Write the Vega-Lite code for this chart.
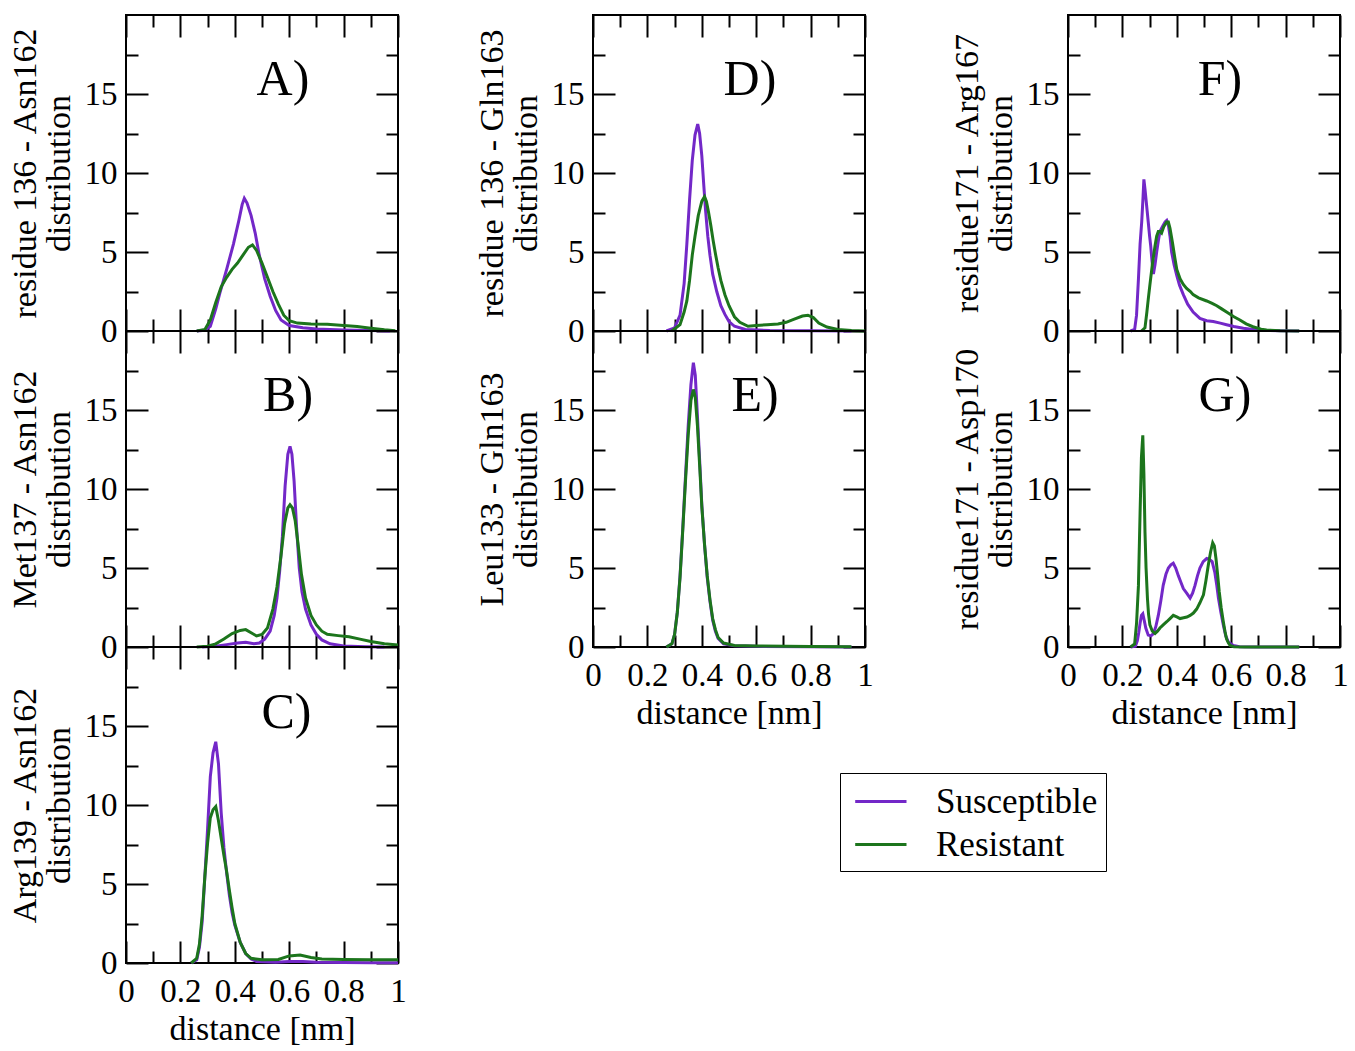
{
"$schema": "https://vega.github.io/schema/vega-lite/v6.json",
"background": "white",
"padding": {"left": 6, "top": 13, "right": 5, "bottom": 5},
"autosize": {"type": "pad"},
"datasets": {"d": [
{"p":"A","s":"Susceptible","x":0.26,"y":0},{"p":"A","s":"Susceptible","x":0.29,"y":0.05},{"p":"A","s":"Susceptible","x":0.31,"y":0.3},{"p":"A","s":"Susceptible","x":0.33,"y":1.4},{"p":"A","s":"Susceptible","x":0.345,"y":2.4},{"p":"A","s":"Susceptible","x":0.37,"y":3.9},{"p":"A","s":"Susceptible","x":0.395,"y":5.5},{"p":"A","s":"Susceptible","x":0.415,"y":7.0},{"p":"A","s":"Susceptible","x":0.427,"y":8.0},{"p":"A","s":"Susceptible","x":0.435,"y":8.4},{"p":"A","s":"Susceptible","x":0.445,"y":8.1},{"p":"A","s":"Susceptible","x":0.46,"y":7.3},{"p":"A","s":"Susceptible","x":0.475,"y":6.2},{"p":"A","s":"Susceptible","x":0.49,"y":4.8},{"p":"A","s":"Susceptible","x":0.51,"y":3.3},{"p":"A","s":"Susceptible","x":0.53,"y":2.2},{"p":"A","s":"Susceptible","x":0.55,"y":1.3},{"p":"A","s":"Susceptible","x":0.57,"y":0.7},{"p":"A","s":"Susceptible","x":0.6,"y":0.35},{"p":"A","s":"Susceptible","x":0.65,"y":0.2},{"p":"A","s":"Susceptible","x":0.7,"y":0.12},{"p":"A","s":"Susceptible","x":0.8,"y":0.06},{"p":"A","s":"Susceptible","x":0.9,"y":0.03},{"p":"A","s":"Susceptible","x":0.97,"y":0},
{"p":"A","s":"Resistant","x":0.26,"y":0},{"p":"A","s":"Resistant","x":0.29,"y":0.1},{"p":"A","s":"Resistant","x":0.31,"y":0.7},{"p":"A","s":"Resistant","x":0.33,"y":1.8},{"p":"A","s":"Resistant","x":0.35,"y":2.8},{"p":"A","s":"Resistant","x":0.37,"y":3.4},{"p":"A","s":"Resistant","x":0.39,"y":3.9},{"p":"A","s":"Resistant","x":0.41,"y":4.3},{"p":"A","s":"Resistant","x":0.43,"y":4.8},{"p":"A","s":"Resistant","x":0.45,"y":5.3},{"p":"A","s":"Resistant","x":0.465,"y":5.45},{"p":"A","s":"Resistant","x":0.48,"y":5.1},{"p":"A","s":"Resistant","x":0.5,"y":4.3},{"p":"A","s":"Resistant","x":0.52,"y":3.4},{"p":"A","s":"Resistant","x":0.54,"y":2.5},{"p":"A","s":"Resistant","x":0.56,"y":1.7},{"p":"A","s":"Resistant","x":0.58,"y":1.0},{"p":"A","s":"Resistant","x":0.6,"y":0.65},{"p":"A","s":"Resistant","x":0.63,"y":0.5},{"p":"A","s":"Resistant","x":0.68,"y":0.45},{"p":"A","s":"Resistant","x":0.74,"y":0.42},{"p":"A","s":"Resistant","x":0.8,"y":0.35},{"p":"A","s":"Resistant","x":0.85,"y":0.28},{"p":"A","s":"Resistant","x":0.9,"y":0.18},{"p":"A","s":"Resistant","x":0.95,"y":0.08},{"p":"A","s":"Resistant","x":0.99,"y":0.02},
{"p":"B","s":"Susceptible","x":0.28,"y":0},{"p":"B","s":"Susceptible","x":0.33,"y":0.05},{"p":"B","s":"Susceptible","x":0.37,"y":0.15},{"p":"B","s":"Susceptible","x":0.41,"y":0.25},{"p":"B","s":"Susceptible","x":0.44,"y":0.3},{"p":"B","s":"Susceptible","x":0.47,"y":0.2},{"p":"B","s":"Susceptible","x":0.49,"y":0.25},{"p":"B","s":"Susceptible","x":0.51,"y":0.5},{"p":"B","s":"Susceptible","x":0.53,"y":1.0},{"p":"B","s":"Susceptible","x":0.545,"y":2.0},{"p":"B","s":"Susceptible","x":0.555,"y":3.1},{"p":"B","s":"Susceptible","x":0.565,"y":4.8},{"p":"B","s":"Susceptible","x":0.575,"y":7.0},{"p":"B","s":"Susceptible","x":0.585,"y":10.2},{"p":"B","s":"Susceptible","x":0.595,"y":12.2},{"p":"B","s":"Susceptible","x":0.603,"y":12.7},{"p":"B","s":"Susceptible","x":0.61,"y":12.2},{"p":"B","s":"Susceptible","x":0.618,"y":10.5},{"p":"B","s":"Susceptible","x":0.627,"y":7.6},{"p":"B","s":"Susceptible","x":0.637,"y":5.0},{"p":"B","s":"Susceptible","x":0.647,"y":3.5},{"p":"B","s":"Susceptible","x":0.66,"y":2.4},{"p":"B","s":"Susceptible","x":0.68,"y":1.4},{"p":"B","s":"Susceptible","x":0.7,"y":0.8},{"p":"B","s":"Susceptible","x":0.72,"y":0.45},{"p":"B","s":"Susceptible","x":0.75,"y":0.2},{"p":"B","s":"Susceptible","x":0.8,"y":0.06},{"p":"B","s":"Susceptible","x":0.88,"y":0.02},{"p":"B","s":"Susceptible","x":0.95,"y":0},
{"p":"B","s":"Resistant","x":0.26,"y":0},{"p":"B","s":"Resistant","x":0.3,"y":0.05},{"p":"B","s":"Resistant","x":0.33,"y":0.2},{"p":"B","s":"Resistant","x":0.36,"y":0.5},{"p":"B","s":"Resistant","x":0.39,"y":0.85},{"p":"B","s":"Resistant","x":0.42,"y":1.05},{"p":"B","s":"Resistant","x":0.44,"y":1.1},{"p":"B","s":"Resistant","x":0.46,"y":0.9},{"p":"B","s":"Resistant","x":0.48,"y":0.7},{"p":"B","s":"Resistant","x":0.5,"y":0.8},{"p":"B","s":"Resistant","x":0.52,"y":1.2},{"p":"B","s":"Resistant","x":0.54,"y":2.4},{"p":"B","s":"Resistant","x":0.555,"y":3.8},{"p":"B","s":"Resistant","x":0.57,"y":5.8},{"p":"B","s":"Resistant","x":0.583,"y":7.8},{"p":"B","s":"Resistant","x":0.595,"y":8.8},{"p":"B","s":"Resistant","x":0.603,"y":9.0},{"p":"B","s":"Resistant","x":0.612,"y":8.8},{"p":"B","s":"Resistant","x":0.622,"y":8.0},{"p":"B","s":"Resistant","x":0.632,"y":6.6},{"p":"B","s":"Resistant","x":0.645,"y":4.6},{"p":"B","s":"Resistant","x":0.66,"y":3.1},{"p":"B","s":"Resistant","x":0.68,"y":2.0},{"p":"B","s":"Resistant","x":0.7,"y":1.4},{"p":"B","s":"Resistant","x":0.72,"y":1.0},{"p":"B","s":"Resistant","x":0.74,"y":0.8},{"p":"B","s":"Resistant","x":0.78,"y":0.72},{"p":"B","s":"Resistant","x":0.82,"y":0.65},{"p":"B","s":"Resistant","x":0.86,"y":0.5},{"p":"B","s":"Resistant","x":0.9,"y":0.35},{"p":"B","s":"Resistant","x":0.95,"y":0.2},{"p":"B","s":"Resistant","x":1.0,"y":0.12},
{"p":"C","s":"Susceptible","x":0.24,"y":0},{"p":"C","s":"Susceptible","x":0.26,"y":0.2},{"p":"C","s":"Susceptible","x":0.27,"y":1.0},{"p":"C","s":"Susceptible","x":0.28,"y":2.6},{"p":"C","s":"Susceptible","x":0.29,"y":5.5},{"p":"C","s":"Susceptible","x":0.3,"y":8.5},{"p":"C","s":"Susceptible","x":0.31,"y":11.8},{"p":"C","s":"Susceptible","x":0.32,"y":13.3},{"p":"C","s":"Susceptible","x":0.33,"y":14.0},{"p":"C","s":"Susceptible","x":0.34,"y":12.6},{"p":"C","s":"Susceptible","x":0.35,"y":9.5},{"p":"C","s":"Susceptible","x":0.36,"y":7.3},{"p":"C","s":"Susceptible","x":0.37,"y":5.7},{"p":"C","s":"Susceptible","x":0.38,"y":4.3},{"p":"C","s":"Susceptible","x":0.39,"y":3.2},{"p":"C","s":"Susceptible","x":0.4,"y":2.4},{"p":"C","s":"Susceptible","x":0.42,"y":1.3},{"p":"C","s":"Susceptible","x":0.44,"y":0.6},{"p":"C","s":"Susceptible","x":0.46,"y":0.25},{"p":"C","s":"Susceptible","x":0.48,"y":0.1},{"p":"C","s":"Susceptible","x":0.55,"y":0.05},{"p":"C","s":"Susceptible","x":0.6,"y":0.1},{"p":"C","s":"Susceptible","x":0.65,"y":0.1},{"p":"C","s":"Susceptible","x":0.7,"y":0.05},{"p":"C","s":"Susceptible","x":0.8,"y":0.03},{"p":"C","s":"Susceptible","x":0.9,"y":0.02},{"p":"C","s":"Susceptible","x":1.0,"y":0.02},
{"p":"C","s":"Resistant","x":0.24,"y":0},{"p":"C","s":"Resistant","x":0.26,"y":0.3},{"p":"C","s":"Resistant","x":0.27,"y":1.2},{"p":"C","s":"Resistant","x":0.28,"y":3.0},{"p":"C","s":"Resistant","x":0.29,"y":5.5},{"p":"C","s":"Resistant","x":0.3,"y":7.6},{"p":"C","s":"Resistant","x":0.31,"y":9.2},{"p":"C","s":"Resistant","x":0.32,"y":9.7},{"p":"C","s":"Resistant","x":0.33,"y":9.9},{"p":"C","s":"Resistant","x":0.34,"y":9.0},{"p":"C","s":"Resistant","x":0.35,"y":7.9},{"p":"C","s":"Resistant","x":0.36,"y":6.8},{"p":"C","s":"Resistant","x":0.37,"y":5.8},{"p":"C","s":"Resistant","x":0.38,"y":4.6},{"p":"C","s":"Resistant","x":0.39,"y":3.5},{"p":"C","s":"Resistant","x":0.4,"y":2.5},{"p":"C","s":"Resistant","x":0.42,"y":1.3},{"p":"C","s":"Resistant","x":0.44,"y":0.6},{"p":"C","s":"Resistant","x":0.46,"y":0.3},{"p":"C","s":"Resistant","x":0.5,"y":0.2},{"p":"C","s":"Resistant","x":0.56,"y":0.22},{"p":"C","s":"Resistant","x":0.6,"y":0.45},{"p":"C","s":"Resistant","x":0.64,"y":0.5},{"p":"C","s":"Resistant","x":0.68,"y":0.35},{"p":"C","s":"Resistant","x":0.72,"y":0.25},{"p":"C","s":"Resistant","x":0.8,"y":0.22},{"p":"C","s":"Resistant","x":0.9,"y":0.2},{"p":"C","s":"Resistant","x":1.0,"y":0.2},
{"p":"D","s":"Susceptible","x":0.27,"y":0},{"p":"D","s":"Susceptible","x":0.3,"y":0.2},{"p":"D","s":"Susceptible","x":0.32,"y":1.0},{"p":"D","s":"Susceptible","x":0.335,"y":3.0},{"p":"D","s":"Susceptible","x":0.345,"y":5.5},{"p":"D","s":"Susceptible","x":0.355,"y":8.3},{"p":"D","s":"Susceptible","x":0.365,"y":10.8},{"p":"D","s":"Susceptible","x":0.375,"y":12.4},{"p":"D","s":"Susceptible","x":0.385,"y":13.1},{"p":"D","s":"Susceptible","x":0.392,"y":12.5},{"p":"D","s":"Susceptible","x":0.4,"y":11.1},{"p":"D","s":"Susceptible","x":0.407,"y":9.3},{"p":"D","s":"Susceptible","x":0.414,"y":7.6},{"p":"D","s":"Susceptible","x":0.422,"y":6.0},{"p":"D","s":"Susceptible","x":0.43,"y":4.8},{"p":"D","s":"Susceptible","x":0.44,"y":3.6},{"p":"D","s":"Susceptible","x":0.455,"y":2.5},{"p":"D","s":"Susceptible","x":0.47,"y":1.6},{"p":"D","s":"Susceptible","x":0.485,"y":1.05},{"p":"D","s":"Susceptible","x":0.5,"y":0.6},{"p":"D","s":"Susceptible","x":0.52,"y":0.3},{"p":"D","s":"Susceptible","x":0.56,"y":0.1},{"p":"D","s":"Susceptible","x":0.65,"y":0.03},{"p":"D","s":"Susceptible","x":0.8,"y":0.01},{"p":"D","s":"Susceptible","x":0.95,"y":0},
{"p":"D","s":"Resistant","x":0.29,"y":0},{"p":"D","s":"Resistant","x":0.32,"y":0.4},{"p":"D","s":"Resistant","x":0.335,"y":1.2},{"p":"D","s":"Resistant","x":0.345,"y":1.9},{"p":"D","s":"Resistant","x":0.355,"y":3.2},{"p":"D","s":"Resistant","x":0.365,"y":4.8},{"p":"D","s":"Resistant","x":0.375,"y":6.0},{"p":"D","s":"Resistant","x":0.387,"y":7.3},{"p":"D","s":"Resistant","x":0.4,"y":8.2},{"p":"D","s":"Resistant","x":0.41,"y":8.5},{"p":"D","s":"Resistant","x":0.417,"y":8.2},{"p":"D","s":"Resistant","x":0.424,"y":7.6},{"p":"D","s":"Resistant","x":0.433,"y":6.7},{"p":"D","s":"Resistant","x":0.442,"y":5.7},{"p":"D","s":"Resistant","x":0.45,"y":4.9},{"p":"D","s":"Resistant","x":0.46,"y":4.0},{"p":"D","s":"Resistant","x":0.47,"y":3.2},{"p":"D","s":"Resistant","x":0.485,"y":2.3},{"p":"D","s":"Resistant","x":0.5,"y":1.6},{"p":"D","s":"Resistant","x":0.52,"y":0.9},{"p":"D","s":"Resistant","x":0.54,"y":0.55},{"p":"D","s":"Resistant","x":0.57,"y":0.3},{"p":"D","s":"Resistant","x":0.6,"y":0.35},{"p":"D","s":"Resistant","x":0.64,"y":0.4},{"p":"D","s":"Resistant","x":0.68,"y":0.45},{"p":"D","s":"Resistant","x":0.71,"y":0.55},{"p":"D","s":"Resistant","x":0.74,"y":0.75},{"p":"D","s":"Resistant","x":0.77,"y":0.95},{"p":"D","s":"Resistant","x":0.79,"y":1.0},{"p":"D","s":"Resistant","x":0.81,"y":0.85},{"p":"D","s":"Resistant","x":0.83,"y":0.5},{"p":"D","s":"Resistant","x":0.86,"y":0.25},{"p":"D","s":"Resistant","x":0.9,"y":0.1},{"p":"D","s":"Resistant","x":0.95,"y":0.03},{"p":"D","s":"Resistant","x":1.0,"y":0},
{"p":"E","s":"Susceptible","x":0.27,"y":0},{"p":"E","s":"Susceptible","x":0.29,"y":0.2},{"p":"E","s":"Susceptible","x":0.3,"y":0.8},{"p":"E","s":"Susceptible","x":0.31,"y":2.2},{"p":"E","s":"Susceptible","x":0.32,"y":4.5},{"p":"E","s":"Susceptible","x":0.33,"y":7.5},{"p":"E","s":"Susceptible","x":0.34,"y":10.8},{"p":"E","s":"Susceptible","x":0.35,"y":14.0},{"p":"E","s":"Susceptible","x":0.36,"y":16.6},{"p":"E","s":"Susceptible","x":0.369,"y":18.0},{"p":"E","s":"Susceptible","x":0.376,"y":17.2},{"p":"E","s":"Susceptible","x":0.384,"y":14.6},{"p":"E","s":"Susceptible","x":0.393,"y":11.5},{"p":"E","s":"Susceptible","x":0.4,"y":9.0},{"p":"E","s":"Susceptible","x":0.41,"y":6.5},{"p":"E","s":"Susceptible","x":0.42,"y":4.4},{"p":"E","s":"Susceptible","x":0.43,"y":2.9},{"p":"E","s":"Susceptible","x":0.44,"y":1.7},{"p":"E","s":"Susceptible","x":0.45,"y":1.0},{"p":"E","s":"Susceptible","x":0.46,"y":0.55},{"p":"E","s":"Susceptible","x":0.48,"y":0.2},{"p":"E","s":"Susceptible","x":0.52,"y":0.08},{"p":"E","s":"Susceptible","x":0.6,"y":0.04},{"p":"E","s":"Susceptible","x":0.8,"y":0.02},{"p":"E","s":"Susceptible","x":0.95,"y":0},
{"p":"E","s":"Resistant","x":0.27,"y":0},{"p":"E","s":"Resistant","x":0.29,"y":0.2},{"p":"E","s":"Resistant","x":0.3,"y":0.8},{"p":"E","s":"Resistant","x":0.31,"y":2.2},{"p":"E","s":"Resistant","x":0.32,"y":4.4},{"p":"E","s":"Resistant","x":0.33,"y":7.4},{"p":"E","s":"Resistant","x":0.34,"y":10.5},{"p":"E","s":"Resistant","x":0.35,"y":13.4},{"p":"E","s":"Resistant","x":0.36,"y":15.6},{"p":"E","s":"Resistant","x":0.369,"y":16.3},{"p":"E","s":"Resistant","x":0.376,"y":15.8},{"p":"E","s":"Resistant","x":0.384,"y":14.0},{"p":"E","s":"Resistant","x":0.393,"y":11.2},{"p":"E","s":"Resistant","x":0.4,"y":8.9},{"p":"E","s":"Resistant","x":0.41,"y":6.5},{"p":"E","s":"Resistant","x":0.42,"y":4.5},{"p":"E","s":"Resistant","x":0.43,"y":3.0},{"p":"E","s":"Resistant","x":0.44,"y":1.8},{"p":"E","s":"Resistant","x":0.45,"y":1.1},{"p":"E","s":"Resistant","x":0.46,"y":0.6},{"p":"E","s":"Resistant","x":0.48,"y":0.25},{"p":"E","s":"Resistant","x":0.52,"y":0.1},{"p":"E","s":"Resistant","x":0.6,"y":0.06},{"p":"E","s":"Resistant","x":0.8,"y":0.03},{"p":"E","s":"Resistant","x":0.95,"y":0.01},
{"p":"F","s":"Susceptible","x":0.23,"y":0},{"p":"F","s":"Susceptible","x":0.245,"y":0.1},{"p":"F","s":"Susceptible","x":0.252,"y":1.0},{"p":"F","s":"Susceptible","x":0.259,"y":3.3},{"p":"F","s":"Susceptible","x":0.265,"y":5.5},{"p":"F","s":"Susceptible","x":0.271,"y":6.9},{"p":"F","s":"Susceptible","x":0.276,"y":8.5},{"p":"F","s":"Susceptible","x":0.279,"y":9.6},{"p":"F","s":"Susceptible","x":0.283,"y":9.0},{"p":"F","s":"Susceptible","x":0.287,"y":8.3},{"p":"F","s":"Susceptible","x":0.291,"y":7.6},{"p":"F","s":"Susceptible","x":0.295,"y":6.9},{"p":"F","s":"Susceptible","x":0.3,"y":6.0},{"p":"F","s":"Susceptible","x":0.304,"y":5.4},{"p":"F","s":"Susceptible","x":0.309,"y":4.4},{"p":"F","s":"Susceptible","x":0.314,"y":3.6},{"p":"F","s":"Susceptible","x":0.32,"y":4.2},{"p":"F","s":"Susceptible","x":0.326,"y":5.0},{"p":"F","s":"Susceptible","x":0.332,"y":5.7},{"p":"F","s":"Susceptible","x":0.338,"y":6.3},{"p":"F","s":"Susceptible","x":0.347,"y":6.6},{"p":"F","s":"Susceptible","x":0.357,"y":6.9},{"p":"F","s":"Susceptible","x":0.363,"y":7.0},{"p":"F","s":"Susceptible","x":0.369,"y":6.7},{"p":"F","s":"Susceptible","x":0.375,"y":6.0},{"p":"F","s":"Susceptible","x":0.381,"y":5.0},{"p":"F","s":"Susceptible","x":0.39,"y":4.2},{"p":"F","s":"Susceptible","x":0.4,"y":3.5},{"p":"F","s":"Susceptible","x":0.41,"y":2.9},{"p":"F","s":"Susceptible","x":0.424,"y":2.3},{"p":"F","s":"Susceptible","x":0.44,"y":1.7},{"p":"F","s":"Susceptible","x":0.46,"y":1.2},{"p":"F","s":"Susceptible","x":0.485,"y":0.8},{"p":"F","s":"Susceptible","x":0.51,"y":0.65},{"p":"F","s":"Susceptible","x":0.534,"y":0.6},{"p":"F","s":"Susceptible","x":0.56,"y":0.5},{"p":"F","s":"Susceptible","x":0.583,"y":0.4},{"p":"F","s":"Susceptible","x":0.61,"y":0.28},{"p":"F","s":"Susceptible","x":0.645,"y":0.17},{"p":"F","s":"Susceptible","x":0.68,"y":0.1},{"p":"F","s":"Susceptible","x":0.71,"y":0.05},{"p":"F","s":"Susceptible","x":0.78,"y":0.02},{"p":"F","s":"Susceptible","x":0.85,"y":0},
{"p":"F","s":"Resistant","x":0.27,"y":0},{"p":"F","s":"Resistant","x":0.283,"y":0.2},{"p":"F","s":"Resistant","x":0.29,"y":1.2},{"p":"F","s":"Resistant","x":0.295,"y":2.0},{"p":"F","s":"Resistant","x":0.301,"y":2.9},{"p":"F","s":"Resistant","x":0.31,"y":4.2},{"p":"F","s":"Resistant","x":0.32,"y":5.4},{"p":"F","s":"Resistant","x":0.326,"y":6.0},{"p":"F","s":"Resistant","x":0.332,"y":6.3},{"p":"F","s":"Resistant","x":0.338,"y":6.3},{"p":"F","s":"Resistant","x":0.344,"y":6.2},{"p":"F","s":"Resistant","x":0.352,"y":6.6},{"p":"F","s":"Resistant","x":0.363,"y":6.9},{"p":"F","s":"Resistant","x":0.369,"y":6.9},{"p":"F","s":"Resistant","x":0.375,"y":6.5},{"p":"F","s":"Resistant","x":0.384,"y":5.6},{"p":"F","s":"Resistant","x":0.393,"y":4.6},{"p":"F","s":"Resistant","x":0.4,"y":3.9},{"p":"F","s":"Resistant","x":0.412,"y":3.3},{"p":"F","s":"Resistant","x":0.424,"y":2.95},{"p":"F","s":"Resistant","x":0.436,"y":2.7},{"p":"F","s":"Resistant","x":0.45,"y":2.5},{"p":"F","s":"Resistant","x":0.46,"y":2.3},{"p":"F","s":"Resistant","x":0.48,"y":2.1},{"p":"F","s":"Resistant","x":0.51,"y":1.9},{"p":"F","s":"Resistant","x":0.53,"y":1.75},{"p":"F","s":"Resistant","x":0.547,"y":1.6},{"p":"F","s":"Resistant","x":0.565,"y":1.4},{"p":"F","s":"Resistant","x":0.583,"y":1.2},{"p":"F","s":"Resistant","x":0.61,"y":0.9},{"p":"F","s":"Resistant","x":0.632,"y":0.7},{"p":"F","s":"Resistant","x":0.655,"y":0.45},{"p":"F","s":"Resistant","x":0.68,"y":0.27},{"p":"F","s":"Resistant","x":0.71,"y":0.12},{"p":"F","s":"Resistant","x":0.73,"y":0.06},{"p":"F","s":"Resistant","x":0.78,"y":0.02},{"p":"F","s":"Resistant","x":0.85,"y":0},
{"p":"G","s":"Susceptible","x":0.23,"y":0},{"p":"G","s":"Susceptible","x":0.248,"y":0.05},{"p":"G","s":"Susceptible","x":0.255,"y":0.4},{"p":"G","s":"Susceptible","x":0.26,"y":0.9},{"p":"G","s":"Susceptible","x":0.265,"y":1.5},{"p":"G","s":"Susceptible","x":0.27,"y":2.0},{"p":"G","s":"Susceptible","x":0.275,"y":2.1},{"p":"G","s":"Susceptible","x":0.28,"y":1.7},{"p":"G","s":"Susceptible","x":0.286,"y":1.2},{"p":"G","s":"Susceptible","x":0.295,"y":0.75},{"p":"G","s":"Susceptible","x":0.305,"y":0.7},{"p":"G","s":"Susceptible","x":0.314,"y":0.85},{"p":"G","s":"Susceptible","x":0.323,"y":1.3},{"p":"G","s":"Susceptible","x":0.332,"y":2.0},{"p":"G","s":"Susceptible","x":0.341,"y":2.9},{"p":"G","s":"Susceptible","x":0.35,"y":3.9},{"p":"G","s":"Susceptible","x":0.36,"y":4.6},{"p":"G","s":"Susceptible","x":0.369,"y":5.0},{"p":"G","s":"Susceptible","x":0.378,"y":5.2},{"p":"G","s":"Susceptible","x":0.387,"y":5.3},{"p":"G","s":"Susceptible","x":0.396,"y":5.0},{"p":"G","s":"Susceptible","x":0.406,"y":4.5},{"p":"G","s":"Susceptible","x":0.415,"y":4.1},{"p":"G","s":"Susceptible","x":0.424,"y":3.7},{"p":"G","s":"Susceptible","x":0.437,"y":3.4},{"p":"G","s":"Susceptible","x":0.449,"y":3.1},{"p":"G","s":"Susceptible","x":0.458,"y":3.4},{"p":"G","s":"Susceptible","x":0.467,"y":3.9},{"p":"G","s":"Susceptible","x":0.476,"y":4.5},{"p":"G","s":"Susceptible","x":0.485,"y":5.0},{"p":"G","s":"Susceptible","x":0.497,"y":5.4},{"p":"G","s":"Susceptible","x":0.51,"y":5.6},{"p":"G","s":"Susceptible","x":0.52,"y":5.55},{"p":"G","s":"Susceptible","x":0.53,"y":5.4},{"p":"G","s":"Susceptible","x":0.54,"y":4.7},{"p":"G","s":"Susceptible","x":0.547,"y":3.9},{"p":"G","s":"Susceptible","x":0.553,"y":3.1},{"p":"G","s":"Susceptible","x":0.562,"y":2.2},{"p":"G","s":"Susceptible","x":0.571,"y":1.4},{"p":"G","s":"Susceptible","x":0.58,"y":0.7},{"p":"G","s":"Susceptible","x":0.59,"y":0.3},{"p":"G","s":"Susceptible","x":0.608,"y":0.1},{"p":"G","s":"Susceptible","x":0.63,"y":0.02},{"p":"G","s":"Susceptible","x":0.7,"y":0},{"p":"G","s":"Susceptible","x":0.85,"y":0},
{"p":"G","s":"Resistant","x":0.23,"y":0},{"p":"G","s":"Resistant","x":0.245,"y":0.2},{"p":"G","s":"Resistant","x":0.252,"y":1.5},{"p":"G","s":"Resistant","x":0.259,"y":3.9},{"p":"G","s":"Resistant","x":0.265,"y":8.5},{"p":"G","s":"Resistant","x":0.27,"y":12.0},{"p":"G","s":"Resistant","x":0.275,"y":13.4},{"p":"G","s":"Resistant","x":0.279,"y":11.0},{"p":"G","s":"Resistant","x":0.283,"y":7.3},{"p":"G","s":"Resistant","x":0.287,"y":5.0},{"p":"G","s":"Resistant","x":0.292,"y":3.1},{"p":"G","s":"Resistant","x":0.296,"y":2.1},{"p":"G","s":"Resistant","x":0.301,"y":1.4},{"p":"G","s":"Resistant","x":0.31,"y":1.0},{"p":"G","s":"Resistant","x":0.32,"y":0.85},{"p":"G","s":"Resistant","x":0.329,"y":1.0},{"p":"G","s":"Resistant","x":0.338,"y":1.2},{"p":"G","s":"Resistant","x":0.35,"y":1.4},{"p":"G","s":"Resistant","x":0.363,"y":1.6},{"p":"G","s":"Resistant","x":0.375,"y":1.8},{"p":"G","s":"Resistant","x":0.387,"y":2.0},{"p":"G","s":"Resistant","x":0.4,"y":1.9},{"p":"G","s":"Resistant","x":0.412,"y":1.8},{"p":"G","s":"Resistant","x":0.425,"y":1.85},{"p":"G","s":"Resistant","x":0.437,"y":1.9},{"p":"G","s":"Resistant","x":0.449,"y":2.0},{"p":"G","s":"Resistant","x":0.461,"y":2.15},{"p":"G","s":"Resistant","x":0.473,"y":2.4},{"p":"G","s":"Resistant","x":0.485,"y":2.8},{"p":"G","s":"Resistant","x":0.498,"y":3.3},{"p":"G","s":"Resistant","x":0.507,"y":4.2},{"p":"G","s":"Resistant","x":0.516,"y":5.2},{"p":"G","s":"Resistant","x":0.524,"y":6.0},{"p":"G","s":"Resistant","x":0.532,"y":6.6},{"p":"G","s":"Resistant","x":0.538,"y":6.4},{"p":"G","s":"Resistant","x":0.544,"y":5.6},{"p":"G","s":"Resistant","x":0.55,"y":4.6},{"p":"G","s":"Resistant","x":0.556,"y":3.5},{"p":"G","s":"Resistant","x":0.563,"y":2.5},{"p":"G","s":"Resistant","x":0.571,"y":1.6},{"p":"G","s":"Resistant","x":0.577,"y":1.0},{"p":"G","s":"Resistant","x":0.583,"y":0.5},{"p":"G","s":"Resistant","x":0.59,"y":0.25},{"p":"G","s":"Resistant","x":0.596,"y":0.1},{"p":"G","s":"Resistant","x":0.61,"y":0.02},{"p":"G","s":"Resistant","x":0.65,"y":0},{"p":"G","s":"Resistant","x":0.85,"y":0}
]},
"spacing": 65,
"hconcat": [
{"spacing": 0, "bounds": "flush", "vconcat": [
 {"width":272,"height":316,"data":{"name":"d"},"transform":[{"filter":"datum.p==='A'"}],
  "layer":[
   {"transform":[{"filter":"datum.s==='Susceptible'"}],"mark":{"type":"line","strokeWidth":3},
    "encoding":{"x":{"field":"x","type":"quantitative","scale":{"domain":[0,1],"nice":false},"axis":{"orient":"bottom","values":[0,0.1,0.2,0.3,0.4,0.5,0.6,0.7,0.8,0.9,1],"tickSize":{"condition":{"test":"round(datum.value*10)%2===0","value":-22},"value":-12},"labels":false,"title":null}},
     "y":{"field":"y","type":"quantitative","scale":{"domain":[0,20],"nice":false},"axis":{"orient":"left","values":[0,2.5,5,7.5,10,12.5,15,17.5],"tickSize":{"condition":{"test":"datum.value%5===0","value":-22},"value":-12},"labelExpr":"datum.value%5===0 ? format(datum.value,'d') : ''","labelPadding":31,"title":["residue 136 - Asn162","distribution"],"titlePadding":8,"titleLineHeight":34}},
     "color":{"field":"s","type":"nominal","scale":{"domain":["Susceptible","Resistant"],"range":["#7328c8","#1c751c"]},"legend":{"title":null,"orient":"none","legendX":714,"legendY":758,"direction":"vertical","symbolType":"M-0.7,0H2.0","symbolStrokeWidth":3,"symbolSize":1444,"labelFont":"Liberation Serif","labelFontSize":35,"labelColor":"black","labelLimit":300,"strokeColor":"black","padding":8,"fillColor":"white","rowPadding":4,"labelOffset":47}}}},
   {"transform":[{"filter":"datum.s==='Resistant'"}],"mark":{"type":"line","strokeWidth":3},
    "encoding":{"x":{"field":"x","type":"quantitative","scale":{"domain":[0,1],"nice":false},"axis":{"orient":"top","values":[0,0.1,0.2,0.3,0.4,0.5,0.6,0.7,0.8,0.9,1],"tickSize":{"condition":{"test":"round(datum.value*10)%2===0","value":-22},"value":-12},"labels":false,"title":null}},
     "y":{"field":"y","type":"quantitative","scale":{"domain":[0,20],"nice":false},"axis":{"orient":"right","values":[0,2.5,5,7.5,10,12.5,15,17.5],"tickSize":{"condition":{"test":"datum.value%5===0","value":-22},"value":-12},"labels":false,"title":null}},
     "color":{"field":"s","type":"nominal","scale":{"domain":["Susceptible","Resistant"],"range":["#7328c8","#1c751c"]},"legend":{"title":null,"orient":"none","legendX":714,"legendY":758,"direction":"vertical","symbolType":"M-0.7,0H2.0","symbolStrokeWidth":3,"symbolSize":1444,"labelFont":"Liberation Serif","labelFontSize":35,"labelColor":"black","labelLimit":300,"strokeColor":"black","padding":8,"fillColor":"white","rowPadding":4,"labelOffset":47}}}},
   {"data":{"values":[{"label":"A)"}]},"mark":{"type":"text","font":"Liberation Serif","fontSize":50,"color":"black"},
    "encoding":{"x":{"datum":0.577,"type":"quantitative","axis":null},"y":{"datum":15.9,"type":"quantitative","axis":null},"text":{"field":"label"}}}
  ],
  "resolve":{"axis":{"x":"independent","y":"independent"}}},
 {"width":272,"height":316,"data":{"name":"d"},"transform":[{"filter":"datum.p==='B'"}],
  "layer":[
   {"transform":[{"filter":"datum.s==='Susceptible'"}],"mark":{"type":"line","strokeWidth":3},
    "encoding":{"x":{"field":"x","type":"quantitative","scale":{"domain":[0,1],"nice":false},"axis":{"orient":"bottom","values":[0,0.1,0.2,0.3,0.4,0.5,0.6,0.7,0.8,0.9,1],"tickSize":{"condition":{"test":"round(datum.value*10)%2===0","value":-22},"value":-12},"labels":false,"title":null}},
     "y":{"field":"y","type":"quantitative","scale":{"domain":[0,20],"nice":false},"axis":{"orient":"left","values":[0,2.5,5,7.5,10,12.5,15,17.5],"tickSize":{"condition":{"test":"datum.value%5===0","value":-22},"value":-12},"labelExpr":"datum.value%5===0 ? format(datum.value,'d') : ''","labelPadding":31,"title":["Met137 - Asn162","distribution"],"titlePadding":8,"titleLineHeight":34}},
     "color":{"field":"s","type":"nominal","scale":{"domain":["Susceptible","Resistant"],"range":["#7328c8","#1c751c"]},"legend":{"title":null,"orient":"none","legendX":714,"legendY":758,"direction":"vertical","symbolType":"M-0.7,0H2.0","symbolStrokeWidth":3,"symbolSize":1444,"labelFont":"Liberation Serif","labelFontSize":35,"labelColor":"black","labelLimit":300,"strokeColor":"black","padding":8,"fillColor":"white","rowPadding":4,"labelOffset":47}}}},
   {"transform":[{"filter":"datum.s==='Resistant'"}],"mark":{"type":"line","strokeWidth":3},
    "encoding":{"x":{"field":"x","type":"quantitative","scale":{"domain":[0,1],"nice":false},"axis":{"orient":"top","values":[0,0.1,0.2,0.3,0.4,0.5,0.6,0.7,0.8,0.9,1],"tickSize":{"condition":{"test":"round(datum.value*10)%2===0","value":-22},"value":-12},"labels":false,"title":null}},
     "y":{"field":"y","type":"quantitative","scale":{"domain":[0,20],"nice":false},"axis":{"orient":"right","values":[0,2.5,5,7.5,10,12.5,15,17.5],"tickSize":{"condition":{"test":"datum.value%5===0","value":-22},"value":-12},"labels":false,"title":null}},
     "color":{"field":"s","type":"nominal","scale":{"domain":["Susceptible","Resistant"],"range":["#7328c8","#1c751c"]},"legend":{"title":null,"orient":"none","legendX":714,"legendY":758,"direction":"vertical","symbolType":"M-0.7,0H2.0","symbolStrokeWidth":3,"symbolSize":1444,"labelFont":"Liberation Serif","labelFontSize":35,"labelColor":"black","labelLimit":300,"strokeColor":"black","padding":8,"fillColor":"white","rowPadding":4,"labelOffset":47}}}},
   {"data":{"values":[{"label":"B)"}]},"mark":{"type":"text","font":"Liberation Serif","fontSize":50,"color":"black"},
    "encoding":{"x":{"datum":0.596,"type":"quantitative","axis":null},"y":{"datum":15.9,"type":"quantitative","axis":null},"text":{"field":"label"}}}
  ],
  "resolve":{"axis":{"x":"independent","y":"independent"}}},
 {"width":272,"height":316,"data":{"name":"d"},"transform":[{"filter":"datum.p==='C'"}],
  "layer":[
   {"transform":[{"filter":"datum.s==='Susceptible'"}],"mark":{"type":"line","strokeWidth":3},
    "encoding":{"x":{"field":"x","type":"quantitative","scale":{"domain":[0,1],"nice":false},"axis":{"orient":"bottom","values":[0,0.1,0.2,0.3,0.4,0.5,0.6,0.7,0.8,0.9,1],"tickSize":{"condition":{"test":"round(datum.value*10)%2===0","value":-22},"value":-12},"labelExpr":"round(datum.value*10)%2===0 ? format(datum.value,'~g') : ''","labelPadding":34,"title":"distance [nm]","titlePadding":-6}},
     "y":{"field":"y","type":"quantitative","scale":{"domain":[0,20],"nice":false},"axis":{"orient":"left","values":[0,2.5,5,7.5,10,12.5,15,17.5],"tickSize":{"condition":{"test":"datum.value%5===0","value":-22},"value":-12},"labelExpr":"datum.value%5===0 ? format(datum.value,'d') : ''","labelPadding":31,"title":["Arg139 - Asn162","distribution"],"titlePadding":8,"titleLineHeight":34}},
     "color":{"field":"s","type":"nominal","scale":{"domain":["Susceptible","Resistant"],"range":["#7328c8","#1c751c"]},"legend":{"title":null,"orient":"none","legendX":714,"legendY":758,"direction":"vertical","symbolType":"M-0.7,0H2.0","symbolStrokeWidth":3,"symbolSize":1444,"labelFont":"Liberation Serif","labelFontSize":35,"labelColor":"black","labelLimit":300,"strokeColor":"black","padding":8,"fillColor":"white","rowPadding":4,"labelOffset":47}}}},
   {"transform":[{"filter":"datum.s==='Resistant'"}],"mark":{"type":"line","strokeWidth":3},
    "encoding":{"x":{"field":"x","type":"quantitative","scale":{"domain":[0,1],"nice":false},"axis":{"orient":"top","values":[0,0.1,0.2,0.3,0.4,0.5,0.6,0.7,0.8,0.9,1],"tickSize":{"condition":{"test":"round(datum.value*10)%2===0","value":-22},"value":-12},"labels":false,"title":null}},
     "y":{"field":"y","type":"quantitative","scale":{"domain":[0,20],"nice":false},"axis":{"orient":"right","values":[0,2.5,5,7.5,10,12.5,15,17.5],"tickSize":{"condition":{"test":"datum.value%5===0","value":-22},"value":-12},"labels":false,"title":null}},
     "color":{"field":"s","type":"nominal","scale":{"domain":["Susceptible","Resistant"],"range":["#7328c8","#1c751c"]},"legend":{"title":null,"orient":"none","legendX":714,"legendY":758,"direction":"vertical","symbolType":"M-0.7,0H2.0","symbolStrokeWidth":3,"symbolSize":1444,"labelFont":"Liberation Serif","labelFontSize":35,"labelColor":"black","labelLimit":300,"strokeColor":"black","padding":8,"fillColor":"white","rowPadding":4,"labelOffset":47}}}},
   {"data":{"values":[{"label":"C)"}]},"mark":{"type":"text","font":"Liberation Serif","fontSize":50,"color":"black"},
    "encoding":{"x":{"datum":0.59,"type":"quantitative","axis":null},"y":{"datum":15.8,"type":"quantitative","axis":null},"text":{"field":"label"}}}
  ],
  "resolve":{"axis":{"x":"independent","y":"independent"}}}
]},
{"spacing": 73, "hconcat": [
 {"spacing": 0, "bounds": "flush", "vconcat": [
 {"width":272,"height":316,"data":{"name":"d"},"transform":[{"filter":"datum.p==='D'"}],
  "layer":[
   {"transform":[{"filter":"datum.s==='Susceptible'"}],"mark":{"type":"line","strokeWidth":3},
    "encoding":{"x":{"field":"x","type":"quantitative","scale":{"domain":[0,1],"nice":false},"axis":{"orient":"bottom","values":[0,0.1,0.2,0.3,0.4,0.5,0.6,0.7,0.8,0.9,1],"tickSize":{"condition":{"test":"round(datum.value*10)%2===0","value":-22},"value":-12},"labels":false,"title":null}},
     "y":{"field":"y","type":"quantitative","scale":{"domain":[0,20],"nice":false},"axis":{"orient":"left","values":[0,2.5,5,7.5,10,12.5,15,17.5],"tickSize":{"condition":{"test":"datum.value%5===0","value":-22},"value":-12},"labelExpr":"datum.value%5===0 ? format(datum.value,'d') : ''","labelPadding":31,"title":["residue 136 - Gln163","distribution"],"titlePadding":8,"titleLineHeight":34}},
     "color":{"field":"s","type":"nominal","scale":{"domain":["Susceptible","Resistant"],"range":["#7328c8","#1c751c"]},"legend":{"title":null,"orient":"none","legendX":714,"legendY":758,"direction":"vertical","symbolType":"M-0.7,0H2.0","symbolStrokeWidth":3,"symbolSize":1444,"labelFont":"Liberation Serif","labelFontSize":35,"labelColor":"black","labelLimit":300,"strokeColor":"black","padding":8,"fillColor":"white","rowPadding":4,"labelOffset":47}}}},
   {"transform":[{"filter":"datum.s==='Resistant'"}],"mark":{"type":"line","strokeWidth":3},
    "encoding":{"x":{"field":"x","type":"quantitative","scale":{"domain":[0,1],"nice":false},"axis":{"orient":"top","values":[0,0.1,0.2,0.3,0.4,0.5,0.6,0.7,0.8,0.9,1],"tickSize":{"condition":{"test":"round(datum.value*10)%2===0","value":-22},"value":-12},"labels":false,"title":null}},
     "y":{"field":"y","type":"quantitative","scale":{"domain":[0,20],"nice":false},"axis":{"orient":"right","values":[0,2.5,5,7.5,10,12.5,15,17.5],"tickSize":{"condition":{"test":"datum.value%5===0","value":-22},"value":-12},"labels":false,"title":null}},
     "color":{"field":"s","type":"nominal","scale":{"domain":["Susceptible","Resistant"],"range":["#7328c8","#1c751c"]},"legend":{"title":null,"orient":"none","legendX":714,"legendY":758,"direction":"vertical","symbolType":"M-0.7,0H2.0","symbolStrokeWidth":3,"symbolSize":1444,"labelFont":"Liberation Serif","labelFontSize":35,"labelColor":"black","labelLimit":300,"strokeColor":"black","padding":8,"fillColor":"white","rowPadding":4,"labelOffset":47}}}},
   {"data":{"values":[{"label":"D)"}]},"mark":{"type":"text","font":"Liberation Serif","fontSize":50,"color":"black"},
    "encoding":{"x":{"datum":0.577,"type":"quantitative","axis":null},"y":{"datum":15.9,"type":"quantitative","axis":null},"text":{"field":"label"}}}
  ],
  "resolve":{"axis":{"x":"independent","y":"independent"}}},
 {"width":272,"height":316,"data":{"name":"d"},"transform":[{"filter":"datum.p==='E'"}],
  "layer":[
   {"transform":[{"filter":"datum.s==='Susceptible'"}],"mark":{"type":"line","strokeWidth":3},
    "encoding":{"x":{"field":"x","type":"quantitative","scale":{"domain":[0,1],"nice":false},"axis":{"orient":"bottom","values":[0,0.1,0.2,0.3,0.4,0.5,0.6,0.7,0.8,0.9,1],"tickSize":{"condition":{"test":"round(datum.value*10)%2===0","value":-22},"value":-12},"labelExpr":"round(datum.value*10)%2===0 ? format(datum.value,'~g') : ''","labelPadding":34,"title":"distance [nm]","titlePadding":-6}},
     "y":{"field":"y","type":"quantitative","scale":{"domain":[0,20],"nice":false},"axis":{"orient":"left","values":[0,2.5,5,7.5,10,12.5,15,17.5],"tickSize":{"condition":{"test":"datum.value%5===0","value":-22},"value":-12},"labelExpr":"datum.value%5===0 ? format(datum.value,'d') : ''","labelPadding":31,"title":["Leu133 - Gln163","distribution"],"titlePadding":8,"titleLineHeight":34}},
     "color":{"field":"s","type":"nominal","scale":{"domain":["Susceptible","Resistant"],"range":["#7328c8","#1c751c"]},"legend":{"title":null,"orient":"none","legendX":714,"legendY":758,"direction":"vertical","symbolType":"M-0.7,0H2.0","symbolStrokeWidth":3,"symbolSize":1444,"labelFont":"Liberation Serif","labelFontSize":35,"labelColor":"black","labelLimit":300,"strokeColor":"black","padding":8,"fillColor":"white","rowPadding":4,"labelOffset":47}}}},
   {"transform":[{"filter":"datum.s==='Resistant'"}],"mark":{"type":"line","strokeWidth":3},
    "encoding":{"x":{"field":"x","type":"quantitative","scale":{"domain":[0,1],"nice":false},"axis":{"orient":"top","values":[0,0.1,0.2,0.3,0.4,0.5,0.6,0.7,0.8,0.9,1],"tickSize":{"condition":{"test":"round(datum.value*10)%2===0","value":-22},"value":-12},"labels":false,"title":null}},
     "y":{"field":"y","type":"quantitative","scale":{"domain":[0,20],"nice":false},"axis":{"orient":"right","values":[0,2.5,5,7.5,10,12.5,15,17.5],"tickSize":{"condition":{"test":"datum.value%5===0","value":-22},"value":-12},"labels":false,"title":null}},
     "color":{"field":"s","type":"nominal","scale":{"domain":["Susceptible","Resistant"],"range":["#7328c8","#1c751c"]},"legend":{"title":null,"orient":"none","legendX":714,"legendY":758,"direction":"vertical","symbolType":"M-0.7,0H2.0","symbolStrokeWidth":3,"symbolSize":1444,"labelFont":"Liberation Serif","labelFontSize":35,"labelColor":"black","labelLimit":300,"strokeColor":"black","padding":8,"fillColor":"white","rowPadding":4,"labelOffset":47}}}},
   {"data":{"values":[{"label":"E)"}]},"mark":{"type":"text","font":"Liberation Serif","fontSize":50,"color":"black"},
    "encoding":{"x":{"datum":0.596,"type":"quantitative","axis":null},"y":{"datum":15.9,"type":"quantitative","axis":null},"text":{"field":"label"}}}
  ],
  "resolve":{"axis":{"x":"independent","y":"independent"}}}
 ]},
 {"spacing": 0, "bounds": "flush", "vconcat": [
 {"width":272,"height":316,"data":{"name":"d"},"transform":[{"filter":"datum.p==='F'"}],
  "layer":[
   {"transform":[{"filter":"datum.s==='Susceptible'"}],"mark":{"type":"line","strokeWidth":3},
    "encoding":{"x":{"field":"x","type":"quantitative","scale":{"domain":[0,1],"nice":false},"axis":{"orient":"bottom","values":[0,0.1,0.2,0.3,0.4,0.5,0.6,0.7,0.8,0.9,1],"tickSize":{"condition":{"test":"round(datum.value*10)%2===0","value":-22},"value":-12},"labels":false,"title":null}},
     "y":{"field":"y","type":"quantitative","scale":{"domain":[0,20],"nice":false},"axis":{"orient":"left","values":[0,2.5,5,7.5,10,12.5,15,17.5],"tickSize":{"condition":{"test":"datum.value%5===0","value":-22},"value":-12},"labelExpr":"datum.value%5===0 ? format(datum.value,'d') : ''","labelPadding":31,"title":["residue171 - Arg167","distribution"],"titlePadding":8,"titleLineHeight":34}},
     "color":{"field":"s","type":"nominal","scale":{"domain":["Susceptible","Resistant"],"range":["#7328c8","#1c751c"]},"legend":{"title":null,"orient":"none","legendX":714,"legendY":758,"direction":"vertical","symbolType":"M-0.7,0H2.0","symbolStrokeWidth":3,"symbolSize":1444,"labelFont":"Liberation Serif","labelFontSize":35,"labelColor":"black","labelLimit":300,"strokeColor":"black","padding":8,"fillColor":"white","rowPadding":4,"labelOffset":47}}}},
   {"transform":[{"filter":"datum.s==='Resistant'"}],"mark":{"type":"line","strokeWidth":3},
    "encoding":{"x":{"field":"x","type":"quantitative","scale":{"domain":[0,1],"nice":false},"axis":{"orient":"top","values":[0,0.1,0.2,0.3,0.4,0.5,0.6,0.7,0.8,0.9,1],"tickSize":{"condition":{"test":"round(datum.value*10)%2===0","value":-22},"value":-12},"labels":false,"title":null}},
     "y":{"field":"y","type":"quantitative","scale":{"domain":[0,20],"nice":false},"axis":{"orient":"right","values":[0,2.5,5,7.5,10,12.5,15,17.5],"tickSize":{"condition":{"test":"datum.value%5===0","value":-22},"value":-12},"labels":false,"title":null}},
     "color":{"field":"s","type":"nominal","scale":{"domain":["Susceptible","Resistant"],"range":["#7328c8","#1c751c"]},"legend":{"title":null,"orient":"none","legendX":714,"legendY":758,"direction":"vertical","symbolType":"M-0.7,0H2.0","symbolStrokeWidth":3,"symbolSize":1444,"labelFont":"Liberation Serif","labelFontSize":35,"labelColor":"black","labelLimit":300,"strokeColor":"black","padding":8,"fillColor":"white","rowPadding":4,"labelOffset":47}}}},
   {"data":{"values":[{"label":"F)"}]},"mark":{"type":"text","font":"Liberation Serif","fontSize":50,"color":"black"},
    "encoding":{"x":{"datum":0.559,"type":"quantitative","axis":null},"y":{"datum":15.9,"type":"quantitative","axis":null},"text":{"field":"label"}}}
  ],
  "resolve":{"axis":{"x":"independent","y":"independent"}}},
 {"width":272,"height":316,"data":{"name":"d"},"transform":[{"filter":"datum.p==='G'"}],
  "layer":[
   {"transform":[{"filter":"datum.s==='Susceptible'"}],"mark":{"type":"line","strokeWidth":3},
    "encoding":{"x":{"field":"x","type":"quantitative","scale":{"domain":[0,1],"nice":false},"axis":{"orient":"bottom","values":[0,0.1,0.2,0.3,0.4,0.5,0.6,0.7,0.8,0.9,1],"tickSize":{"condition":{"test":"round(datum.value*10)%2===0","value":-22},"value":-12},"labelExpr":"round(datum.value*10)%2===0 ? format(datum.value,'~g') : ''","labelPadding":34,"title":"distance [nm]","titlePadding":-6}},
     "y":{"field":"y","type":"quantitative","scale":{"domain":[0,20],"nice":false},"axis":{"orient":"left","values":[0,2.5,5,7.5,10,12.5,15,17.5],"tickSize":{"condition":{"test":"datum.value%5===0","value":-22},"value":-12},"labelExpr":"datum.value%5===0 ? format(datum.value,'d') : ''","labelPadding":31,"title":["residue171 - Asp170","distribution"],"titlePadding":8,"titleLineHeight":34}},
     "color":{"field":"s","type":"nominal","scale":{"domain":["Susceptible","Resistant"],"range":["#7328c8","#1c751c"]},"legend":{"title":null,"orient":"none","legendX":714,"legendY":758,"direction":"vertical","symbolType":"M-0.7,0H2.0","symbolStrokeWidth":3,"symbolSize":1444,"labelFont":"Liberation Serif","labelFontSize":35,"labelColor":"black","labelLimit":300,"strokeColor":"black","padding":8,"fillColor":"white","rowPadding":4,"labelOffset":47}}}},
   {"transform":[{"filter":"datum.s==='Resistant'"}],"mark":{"type":"line","strokeWidth":3},
    "encoding":{"x":{"field":"x","type":"quantitative","scale":{"domain":[0,1],"nice":false},"axis":{"orient":"top","values":[0,0.1,0.2,0.3,0.4,0.5,0.6,0.7,0.8,0.9,1],"tickSize":{"condition":{"test":"round(datum.value*10)%2===0","value":-22},"value":-12},"labels":false,"title":null}},
     "y":{"field":"y","type":"quantitative","scale":{"domain":[0,20],"nice":false},"axis":{"orient":"right","values":[0,2.5,5,7.5,10,12.5,15,17.5],"tickSize":{"condition":{"test":"datum.value%5===0","value":-22},"value":-12},"labels":false,"title":null}},
     "color":{"field":"s","type":"nominal","scale":{"domain":["Susceptible","Resistant"],"range":["#7328c8","#1c751c"]},"legend":{"title":null,"orient":"none","legendX":714,"legendY":758,"direction":"vertical","symbolType":"M-0.7,0H2.0","symbolStrokeWidth":3,"symbolSize":1444,"labelFont":"Liberation Serif","labelFontSize":35,"labelColor":"black","labelLimit":300,"strokeColor":"black","padding":8,"fillColor":"white","rowPadding":4,"labelOffset":47}}}},
   {"data":{"values":[{"label":"G)"}]},"mark":{"type":"text","font":"Liberation Serif","fontSize":50,"color":"black"},
    "encoding":{"x":{"datum":0.577,"type":"quantitative","axis":null},"y":{"datum":15.9,"type":"quantitative","axis":null},"text":{"field":"label"}}}
  ],
  "resolve":{"axis":{"x":"independent","y":"independent"}}}
 ]}
]}
],
"config": {
 "view": {"stroke": "black", "strokeWidth": 2},
 "axis": {"domain": false, "grid": false, "tickColor": "black", "tickWidth": 2, "labelFont": "Liberation Serif", "labelFontSize": 33, "labelColor": "black", "titleFont": "Liberation Serif", "titleFontSize": 34, "titleFontWeight": "normal", "titleColor": "black", "labelOverlap": false, "labelFlush": false, "labelBound": false}
}
}
